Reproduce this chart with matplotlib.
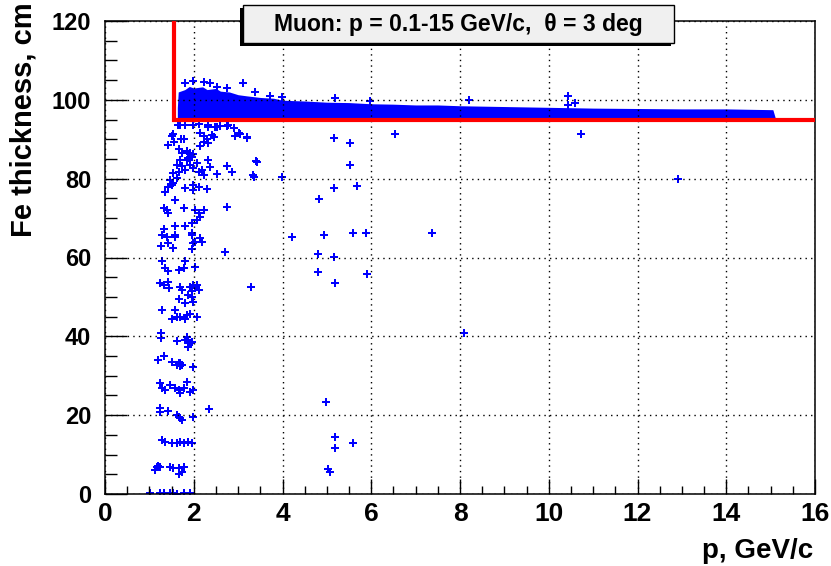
import numpy as np
import matplotlib
matplotlib.use('Agg')
import matplotlib.pyplot as plt
from matplotlib.patches import Rectangle
from matplotlib.ticker import MultipleLocator

plt.rcParams['font.family'] = ['Liberation Sans', 'DejaVu Sans']
plt.rcParams['font.weight'] = 'bold'

# dense band just above the cut (upper/lower edge)
band_p   = [1.63, 1.65, 1.8, 1.9, 2.0, 2.2, 2.3, 2.5, 2.6, 2.8, 3.0, 3.2, 3.5, 3.8, 4.0, 4.5, 5.0, 5.5,
            6.0, 6.5, 7.0, 7.5, 8.0, 9.0, 10.0, 11.0, 12.0, 13.0, 14.0, 15.05, 15.1]
band_top = [98.0, 102.0, 102.6, 103.4, 103.0, 103.3, 102.6, 102.9, 102.2, 102.0, 101.3, 101.0, 100.6,
            100.4, 99.9, 99.7, 99.4, 99.3, 99.0, 98.9, 98.7, 98.7, 98.5, 98.3, 98.1, 97.9, 97.8, 97.7,
            97.7, 97.5, 95.6]
band_bot = [95.3] * len(band_p)

# fringe points above the band
fringe_p = [1.81, 1.99, 2.22, 2.37, 2.52, 2.75, 3.12, 3.39, 3.72, 3.99, 5.19, 5.98, 8.2, 10.44, 10.44, 10.6]
fringe_t = [104.2, 104.7, 104.4, 104.2, 103.2, 103.0, 104.2, 102.1, 100.9, 100.7, 100.4, 99.6, 100.0, 101.0, 98.7, 99.2]

# low momentum column (p < ~3.5 GeV/c)
low_p = [1.69, 1.81, 1.99, 2.11, 2.33, 2.60, 2.78, 1.65, 2.48, 2.90, 3.03, 3.20,
         1.54, 1.50, 1.71, 1.79, 1.43, 1.56, 1.66, 1.73, 1.84, 1.92, 1.99, 1.88, 1.96, 1.84,
         2.14, 2.22, 2.29, 2.41, 2.46, 2.33, 2.22, 2.14, 2.33, 2.52, 2.76, 2.93, 3.05, 3.21,
         1.69, 1.73, 1.62, 1.54, 1.66, 1.81, 1.92, 1.99, 2.07, 2.11, 2.18, 2.22, 2.33, 2.37,
         2.52, 2.76, 2.86, 3.35, 3.42, 1.47, 1.54, 1.62, 1.43, 1.50, 1.81, 1.99, 2.11, 2.29,
         1.99, 1.35, 1.58, 1.39, 1.32, 1.43, 1.77, 2.03, 2.11, 2.22, 2.14, 1.96, 2.07, 2.75,
         1.32, 1.28, 1.39, 1.58, 1.58, 1.81, 1.96, 2.14,
         1.58, 1.96, 1.26, 1.43, 1.54, 1.99, 2.03, 2.18, 1.96, 2.71, 1.28, 1.35, 1.43, 1.81,
         1.77, 1.66, 2.03, 1.24, 1.33, 1.43, 1.45, 1.69, 1.73, 1.92, 1.99, 2.03, 1.96, 2.11,
         2.07, 1.88, 1.96, 1.66, 1.81, 1.99, 1.28, 1.58, 1.50, 1.62, 1.69, 1.84, 1.92, 1.81,
         2.07, 1.26, 1.26, 1.62, 1.84, 1.88, 1.92, 1.96, 1.81, 1.88, 1.20, 1.32, 1.50, 1.66,
         1.69, 1.62, 1.69, 1.73, 1.99, 1.24, 1.28, 1.35, 1.47, 1.58, 1.66, 1.69, 1.77, 1.84,
         1.92, 1.99, 1.24, 1.24, 1.43, 1.62, 1.66, 1.69, 1.73, 1.99, 2.34, 1.28, 1.35, 1.50,
         1.62, 1.69, 1.77, 1.88, 1.96, 1.13, 1.17, 1.20, 1.24, 1.47, 1.54, 1.66, 1.77, 1.66,
         1.73, 1.02, 1.24, 1.32, 1.47, 1.54, 1.62, 1.77, 1.92]
low_t = [93.7, 93.7, 93.7, 93.9, 93.7, 93.4, 93.7, 93.7, 93.2, 92.8, 91.6, 90.5,
         91.4, 90.7, 90.0, 90.0, 88.6, 89.2, 87.5, 86.6, 86.9, 86.5, 86.3, 85.2, 85.6, 84.8,
         91.5, 90.7, 90.0, 91.1, 90.5, 89.0, 89.4, 88.2, 93.1, 93.1, 93.4, 90.9, 91.4, 90.3,
         84.8, 83.2, 83.5, 81.4, 81.8, 82.2, 83.5, 82.7, 83.9, 81.8, 82.2, 81.0, 84.8, 82.9,
         81.2, 83.1, 81.8, 80.5, 84.3, 79.7, 78.8, 80.1, 78.0, 78.4, 77.6, 78.4, 78.0, 77.3,
         77.2, 76.7, 74.6, 72.1, 72.5, 71.2, 72.5, 72.1, 71.2, 72.1, 70.4, 68.7, 69.5, 72.7,
         67.3, 65.7, 65.3, 68.0, 65.7, 68.0, 66.2, 64.9,
         65.3, 65.6, 63.0, 63.6, 62.5, 63.6, 64.0, 64.0, 62.2, 61.3, 59.0, 57.3, 56.6, 59.1,
         57.4, 56.9, 57.7, 53.5, 53.0, 53.9, 52.2, 52.4, 51.8, 52.6, 52.9, 52.2, 51.4, 51.8,
         53.0, 50.5, 50.1, 49.5, 48.4, 48.8, 46.7, 46.7, 44.4, 44.8, 45.0, 45.4, 45.6, 44.4,
         44.9, 40.8, 39.5, 38.8, 39.9, 38.7, 38.2, 38.5, 39.1, 37.4, 34.0, 34.9, 33.6, 33.2,
         33.2, 32.7, 32.5, 32.7, 32.3, 28.1, 26.8, 26.4, 27.7, 26.8, 26.4, 25.5, 26.8, 28.5,
         26.0, 26.4, 21.7, 20.9, 21.1, 20.0, 19.6, 19.2, 18.9, 19.6, 21.6, 13.7, 13.3, 12.9,
         13.0, 13.3, 12.9, 13.3, 12.9, 6.1, 6.8, 7.1, 6.9, 6.9, 6.5, 6.5, 6.9, 5.2,
         5.7, 0.3, 0.2, 0.3, 0.2, 0.3, 0.0, 0.2, 0.3]

# isolated points at higher momentum
iso_p = [5.15, 5.52, 3.40, 5.52, 3.33, 3.99, 6.53, 10.72, 5.15, 5.67, 4.82, 4.21, 4.94,
         5.59, 5.88, 7.37, 4.79, 5.15, 4.79, 5.91, 5.19, 3.30, 8.10, 4.97, 5.19, 5.59,
         5.19, 5.03, 5.08, 12.91, 2.75, 2.71]
iso_t = [90.4, 89.0, 84.4, 83.5, 80.9, 80.4, 91.3, 91.3, 77.6, 78.1, 74.9, 65.3, 65.7,
         66.2, 66.2, 66.2, 60.8, 60.2, 56.3, 55.8, 53.5, 52.6, 40.8, 23.4, 14.4, 13.0,
         11.6, 6.3, 5.7, 80.0, 72.7, 61.3]

# cut line
cut_p = [1.55, 1.55, 16.0]
cut_t = [120.0, 95.0, 95.0]

fig = plt.figure(figsize=(8.31, 5.66), dpi=100)
ax = fig.add_axes([105/831, 1-494/566, 710/831, 473/566])

ax.fill_between(band_p, band_bot, band_top, color='#0000ff', lw=0, zorder=2)
for px, py in [(fringe_p, fringe_t), (low_p, low_t), (iso_p, iso_t)]:
    ax.plot(px, py, ls='none', marker='P', ms=5.2, mew=0, color='#0000ff', zorder=2)
ax.plot(cut_p, cut_t, color='#ff0000', lw=3.0, solid_joinstyle='miter', zorder=4)

ax.set_xlim(0, 16)
ax.set_ylim(0, 120)
ax.xaxis.set_major_locator(MultipleLocator(2))
ax.xaxis.set_minor_locator(MultipleLocator(0.5))
ax.yaxis.set_major_locator(MultipleLocator(20))
ax.yaxis.set_minor_locator(MultipleLocator(5))
ax.grid(True, which='major', color='black', ls=(0, (1, 3)), lw=1.0, zorder=3)
ax.set_axisbelow(False)

ax.tick_params(axis='x', which='major', direction='in', length=10.8, width=1, labelsize=19, pad=6)
ax.tick_params(axis='x', which='minor', direction='in', length=5.8, width=1)
ax.tick_params(axis='y', which='major', direction='in', length=15.5, width=1, labelsize=17, pad=10)
ax.tick_params(axis='y', which='minor', direction='in', length=8.6, width=1)
for lab in ax.get_xticklabels() + ax.get_yticklabels():
    lab.set_fontweight('bold')
for s in ax.spines.values():
    s.set_linewidth(1.1)

fig.text(813/831, 8/566, 'p, GeV/c', ha='right', va='baseline', fontsize=20, fontweight='bold')
fig.text(24/831, 1-2/566, 'Fe thickness, cm', ha='center', va='top', rotation=90,
         fontsize=21, fontweight='bold')

# title box with shadow
fig.patches.append(Rectangle((240/831, 1-46/566), 431/831, 38/566, transform=fig.transFigure,
                             fc='black', ec='none', zorder=5))
fig.patches.append(Rectangle((243/831, 1-43/566), 431/831, 38/566, transform=fig.transFigure,
                             fc='#f0f0f0', ec='black', lw=1.0, zorder=6))
fig.text(458.5/831, 1-24/566, 'Muon: p = 0.1-15 GeV/c,  θ = 3 deg', ha='center', va='center',
         fontsize=16.5, fontweight='bold', zorder=7)

fig.savefig('out.png', dpi=100)
